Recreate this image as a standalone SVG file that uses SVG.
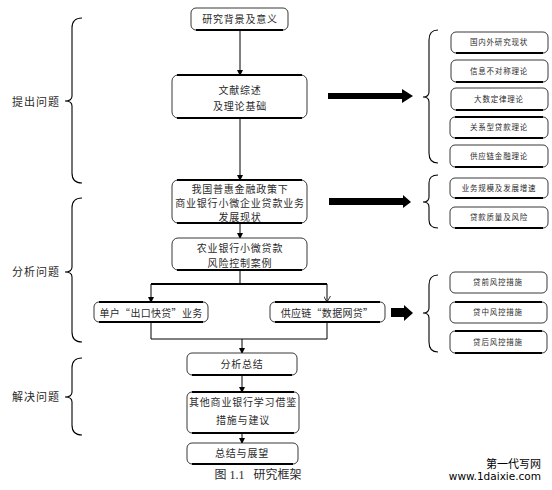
<svg xmlns="http://www.w3.org/2000/svg" width="552" height="490" viewBox="0 0 552 490">
<style>
.box{fill:#fff;stroke:#222;stroke-width:0.9}
.edge{stroke:#000;stroke-width:2;fill:none}
.t{font-family:"Liberation Serif","Noto Sans CJK SC",serif;font-size:10px;letter-spacing:0.8px;fill:#2a2a2a;text-anchor:middle;dominant-baseline:central}
.q{font-family:"Noto Sans CJK SC",serif;font-size:10px;letter-spacing:0.3px;fill:#2a2a2a;text-anchor:middle;dominant-baseline:central}
.s{font-family:"Liberation Serif","Noto Sans CJK SC",serif;font-size:7.5px;letter-spacing:0.8px;fill:#2a2a2a;text-anchor:middle;dominant-baseline:central}
.lab{font-family:"Liberation Serif","Noto Sans CJK SC",serif;font-size:11px;letter-spacing:1px;fill:#2a2a2a;text-anchor:middle;dominant-baseline:central}
.brace{fill:none;stroke:#000;stroke-width:1.1}
.ln{stroke:#000;stroke-width:1;fill:none}
.thick{stroke:#000;stroke-width:2;fill:none}
</style>
<defs>
<marker id="ah" markerWidth="6" markerHeight="6" refX="5" refY="3" orient="auto" markerUnits="userSpaceOnUse">
<path d="M0,0 L6,3 L0,6 z" fill="#000"/>
</marker>
<marker id="ao" markerWidth="7" markerHeight="7" refX="6" refY="3.5" orient="auto" markerUnits="userSpaceOnUse">
<path d="M0,0 L6,3.5 L0,7" fill="none" stroke="#000" stroke-width="0.8"/>
</marker>
</defs>

<g id="connectors">
<line class="ln" x1="240" y1="30" x2="240" y2="75" marker-end="url(#ah)"/>
<line class="ln" x1="240" y1="118" x2="240" y2="180" marker-end="url(#ah)"/>
<line class="ln" x1="240" y1="223" x2="240" y2="238" marker-end="url(#ah)"/>
<line class="ln" x1="240" y1="270" x2="240" y2="284"/>
<line class="thick" x1="151" y1="284" x2="327" y2="284"/>
<line class="ln" x1="151" y1="284" x2="151" y2="302" marker-end="url(#ah)"/>
<line class="ln" x1="327" y1="284" x2="327" y2="302" marker-end="url(#ao)"/>
<polyline class="ln" points="151,322 151,339 327,339 327,322"/>
<line class="ln" x1="242" y1="339" x2="242" y2="353" marker-end="url(#ah)"/>
<line class="ln" x1="242" y1="375" x2="242" y2="392" marker-end="url(#ah)"/>
<line class="ln" x1="242" y1="433" x2="242" y2="443" marker-end="url(#ah)"/>
<polygon points="328,93 402,93 402,89 413,96 402,103 402,99 328,99" fill="#000"/>
<polygon points="329,198 403,198 403,195 411,202 403,208 403,205 329,205" fill="#000"/>
<polygon points="391,308 404,308 404,305 413,313 404,321 404,317 391,317" fill="#000"/>
</g>

<g id="braces">
<path class="brace" d="M82,18 Q72,18 72,28 L72,96 Q72,101 65,101 Q72,101 72,106 L72,173 Q72,183 82,183"/>
<path class="brace" d="M82,198 Q72,198 72,208 L72,267 Q72,272 65,272 Q72,272 72,277 L72,332 Q72,342 82,342"/>
<path class="brace" d="M82,358 Q72,358 72,368 L72,392 Q72,397 65,397 Q72,397 72,402 L72,425 Q72,435 82,435"/>
<path class="brace" d="M438,30 Q429,30 429,40 L429,92 Q429,97 423,97 Q429,97 429,102 L429,153 Q429,163 438,163"/>
<path class="brace" d="M438,175 Q429,175 429,183 L429,197 Q429,202 423,202 Q429,202 429,207 L429,220 Q429,228 438,228"/>
<path class="brace" d="M438,275 Q429,275 429,285 L429,308 Q429,313 423,313 Q429,313 429,318 L429,342 Q429,352 438,352"/>
<text class="lab" x="36" y="102">提出问题</text>
<text class="lab" x="36" y="272">分析问题</text>
<text class="lab" x="36" y="397">解决问题</text>
</g>

<g id="n1"><rect class="box" x="191" y="8" width="97" height="22" rx="5"/><line class="edge" x1="196" y1="30" x2="283" y2="30"/><text class="t" x="240" y="19">研究背景及意义</text></g>
<g id="n2"><rect class="box" x="172" y="75" width="135" height="43" rx="6"/><line class="edge" x1="177" y1="75" x2="302" y2="75"/><line class="edge" x1="177" y1="118" x2="302" y2="118"/><text class="t" x="240" y="90">文献综述</text><text class="t" x="240" y="106">及理论基础</text></g>
<g id="n3"><rect class="box" x="172" y="180" width="135" height="43" rx="6"/><line class="edge" x1="177" y1="180" x2="302" y2="180"/><line class="edge" x1="177" y1="223" x2="302" y2="223"/><text class="t" x="240" y="189">我国普惠金融政策下</text><text class="t" x="240" y="203">商业银行小微企业贷款业务</text><text class="t" x="240" y="217">发展现状</text></g>
<g id="n4"><rect class="box" x="172" y="238" width="135" height="32" rx="6"/><line class="edge" x1="177" y1="270" x2="302" y2="270"/><text class="t" x="240" y="248">农业银行小微贷款</text><text class="t" x="240" y="263">风险控制案例</text></g>
<g id="n5"><rect class="box" x="94" y="302" width="114" height="20" rx="5"/><line class="edge" x1="99" y1="302" x2="203" y2="302"/><line class="edge" x1="99" y1="322" x2="203" y2="322"/><text class="q" x="151" y="312">单户“出口快贷”业务</text></g>
<g id="n6"><rect class="box" x="270" y="302" width="115" height="20" rx="5"/><line class="edge" x1="275" y1="302" x2="380" y2="302"/><line class="edge" x1="275" y1="322" x2="380" y2="322"/><text class="q" x="327" y="312">供应链“数据网贷”</text></g>
<g id="n7"><rect class="box" x="187" y="353" width="110" height="22" rx="5"/><line class="edge" x1="192" y1="375" x2="292" y2="375"/><text class="t" x="242" y="364">分析总结</text></g>
<g id="n8"><rect class="box" x="187" y="392" width="112" height="41" rx="5"/><line class="edge" x1="192" y1="392" x2="294" y2="392"/><line class="edge" x1="192" y1="433" x2="294" y2="433"/><text class="t" x="243" y="402">其他商业银行学习借鉴</text><text class="t" x="243" y="420">措施与建议</text></g>
<g id="n9"><rect class="box" x="187" y="443" width="111" height="21" rx="5"/><line class="edge" x1="192" y1="464" x2="293" y2="464"/><text class="t" x="242" y="453">总结与展望</text></g>

<g id="r1"><rect class="box" x="451" y="32" width="97" height="21" rx="5"/><line class="edge" x1="456" y1="53" x2="543" y2="53"/><text class="s" x="499" y="42.5">国内外研究现状</text></g>
<g id="r2"><rect class="box" x="451" y="60" width="97" height="22" rx="5"/><line class="edge" x1="456" y1="82" x2="543" y2="82"/><text class="s" x="499" y="71">信息不对称理论</text></g>
<g id="r3"><rect class="box" x="451" y="88" width="97" height="22" rx="5"/><line class="edge" x1="456" y1="110" x2="543" y2="110"/><text class="s" x="499" y="99">大数定律理论</text></g>
<g id="r4"><rect class="box" x="450" y="117" width="98" height="21" rx="5"/><line class="edge" x1="455" y1="117" x2="543" y2="117"/><line class="edge" x1="455" y1="138" x2="543" y2="138"/><text class="s" x="499" y="127.5">关系型贷款理论</text></g>
<g id="r5"><rect class="box" x="450" y="145" width="98" height="22" rx="5"/><line class="edge" x1="455" y1="167" x2="543" y2="167"/><text class="s" x="499" y="156">供应链金融理论</text></g>
<g id="r6"><rect class="box" x="450" y="178" width="98" height="20" rx="5"/><line class="edge" x1="455" y1="198" x2="543" y2="198"/><text class="s" x="499" y="188">业务规模及发展增速</text></g>
<g id="r7"><rect class="box" x="450" y="207" width="98" height="21" rx="5"/><line class="edge" x1="455" y1="228" x2="543" y2="228"/><text class="s" x="499" y="217.5">贷款质量及风险</text></g>
<g id="r8"><rect class="box" x="450" y="272" width="97" height="21" rx="5"/><text class="s" x="498" y="282.5">贷前风控措施</text></g>
<g id="r9"><rect class="box" x="450" y="302" width="97" height="21" rx="5"/><line class="edge" x1="455" y1="302" x2="542" y2="302"/><text class="s" x="498" y="312.5">贷中风控措施</text></g>
<g id="r10"><rect class="box" x="450" y="331" width="97" height="22" rx="5"/><line class="edge" x1="455" y1="331" x2="542" y2="331"/><line class="edge" x1="455" y1="353" x2="542" y2="353"/><text class="s" x="498" y="342">贷后风控措施</text></g>

<text x="258" y="475" font-family="Liberation Serif, Noto Sans CJK SC, serif" font-size="12" text-anchor="middle" dominant-baseline="central" fill="#2a2a2a" xml:space="preserve">图 1.1   研究框架</text>
<text x="541" y="463" font-family="Noto Sans CJK SC, sans-serif" font-size="11" text-anchor="end" dominant-baseline="central" fill="#000">第一代写网</text>
<text x="541" y="476" font-family="DejaVu Sans, sans-serif" font-size="10.5" text-anchor="end" dominant-baseline="central" fill="#000">www.1daixie.com</text>
</svg>
